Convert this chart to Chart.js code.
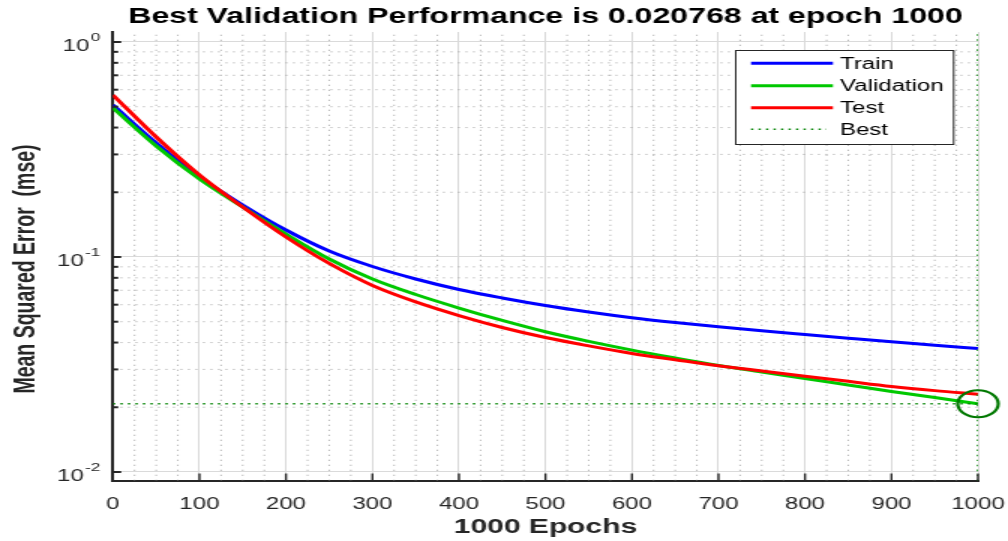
<!DOCTYPE html>
<html><head><meta charset="utf-8">
<script src="https://cdn.jsdelivr.net/npm/chart.js@4.4.1/dist/chart.umd.min.js"></script>
<style>html,body{margin:0;padding:0;background:#fff;overflow:hidden}canvas{display:block}</style>
</head><body>
<canvas id="c" width="672" height="541" style="width:1008px;height:541px"></canvas>
<script>
const titleText = 'Best Validation Performance is 0.020768 at epoch 1000';
const xTitle = '1000 Epochs';
const yTitle = 'Mean Squared Error  (mse)';
const epochs = [0,50,100,150,200,250,300,350,400,450,500,550,600,650,700,750,800,850,900,950,1000];
const train = [0.5092,0.3391,0.2355,0.1745,0.1335,0.1066,0.0903,0.0790,0.0706,0.0645,0.0595,0.0555,0.0522,0.0496,0.0474,0.0454,0.0436,0.0419,0.0403,0.0389,0.0375];
const validation = [0.4932,0.3284,0.2305,0.1708,0.1279,0.0979,0.0790,0.0669,0.0579,0.0507,0.0449,0.0405,0.0369,0.0339,0.0313,0.0292,0.0272,0.0254,0.0237,0.0222,0.020768];
const test = [0.5670,0.3615,0.2406,0.1708,0.1239,0.0933,0.0737,0.0618,0.0534,0.0470,0.0422,0.0386,0.0356,0.0333,0.0312,0.0295,0.0279,0.0264,0.0250,0.0239,0.0230];
const seriesLabels = ['Train','Validation','Test','Best'];
const bestEpoch = 1000;
const bestValue = 0.020768;
const xTicks = [0,100,200,300,400,500,600,700,800,900,1000];
const xMinorStep = 25;
const yTicks = [0.01,0.1,1];
const yTickLabels = [['10','-2'],['10','-1'],['10','0']];
const xRange = [0,1000];
const yRange = [0.00908,1.113];

const FONT = '"Liberation Sans", Arial, Helvetica, sans-serif';
const AXC = '#262626';

const matlab = {
  id:'matlab',
  beforeDraw(chart){
    const c=chart.ctx; c.save(); c.fillStyle='#fff'; c.fillRect(0,0,chart.width,chart.height); c.restore();
  },
  beforeDatasetsDraw(chart){
    const {ctx, chartArea:{left,right,top,bottom}, scales:{x,y}} = chart;
    ctx.save();
    ctx.beginPath(); ctx.rect(left,top,right-left,bottom-top); ctx.clip();
    ctx.strokeStyle='rgba(120,120,120,0.5)'; ctx.lineWidth=1; ctx.setLineDash([1.3,3.7]);
    for(let v=xRange[0]+xMinorStep; v<xRange[1]; v+=xMinorStep){
      if(xTicks.includes(v)) continue;
      const px=x.getPixelForValue(v);
      ctx.beginPath(); ctx.moveTo(px,bottom); ctx.lineTo(px,top); ctx.stroke();
    }
    for(const d of [0.001,0.01,0.1,1]){
      for(let k=2;k<=9;k++){
        const v=k*d; if(v<yRange[0]||v>yRange[1]) continue;
        const py=y.getPixelForValue(v);
        ctx.beginPath(); ctx.moveTo(left,py); ctx.lineTo(right,py); ctx.stroke();
      }
    }
    ctx.restore();
  },
  afterDraw(chart){
    const {ctx, chartArea:{left,right,top,bottom}, scales:{x,y}} = chart;
    ctx.save();
    ctx.strokeStyle=AXC;
    ctx.lineWidth=2;
    for(const v of yTicks){ const py=y.getPixelForValue(v); ctx.beginPath(); ctx.moveTo(left,py); ctx.lineTo(left+5.5,py); ctx.stroke(); }
    for(const d of [0.001,0.01,0.1,1]) for(let k=2;k<=9;k++){
      const v=k*d; if(v<yRange[0]||v>yRange[1]) continue;
      const py=y.getPixelForValue(v); ctx.beginPath(); ctx.moveTo(left,py); ctx.lineTo(left+3.5,py); ctx.stroke();
    }
    ctx.lineWidth=1.4;
    for(const v of xTicks){ if(v===xRange[0]) continue; const px=x.getPixelForValue(v); ctx.beginPath(); ctx.moveTo(px,bottom); ctx.lineTo(px,bottom-7.5); ctx.stroke(); }
    ctx.fillStyle=AXC; ctx.textBaseline='alphabetic'; ctx.textAlign='left';
    yTicks.forEach((v,i)=>{
      const py=y.getPixelForValue(v);
      const [base,exp]=yTickLabels[i];
      ctx.font='11.5px '+FONT; const ew=ctx.measureText(exp).width;
      ctx.font='16px '+FONT; const bw=ctx.measureText(base).width;
      const rightX=67; const ex=rightX-ew; const bx=ex-1-bw;
      ctx.fillText(base,bx,py+9.5);
      ctx.font='11.5px '+FONT; ctx.fillText(exp,ex,py-0.5);
    });
    ctx.fillStyle='#000'; ctx.textAlign='center'; ctx.font='bold 21.4px '+FONT;
    ctx.fillText(titleText,(left+right)/2,23);
    ctx.fillStyle=AXC; ctx.font='bold 20px '+FONT;
    ctx.fillText(xTitle,(left+right)/2,533);
    ctx.save(); ctx.translate(23.3,269); ctx.rotate(-Math.PI/2);
    ctx.font='bold 19.5px '+FONT; ctx.fillText(yTitle,0,0); ctx.restore();
    const lx=490, ly=50, lw=145.3, lh=94;
    ctx.fillStyle='#fff'; ctx.fillRect(lx,ly,lw,lh);
    ctx.strokeStyle=AXC; ctx.lineWidth=1; ctx.strokeRect(lx+0.5,ly+0.5,lw,lh);
    const rows=[63.3,85.7,107.7,129.3];
    seriesLabels.forEach((lab,i)=>{
      const ds=chart.data.datasets[i];
      ctx.save();
      ctx.strokeStyle=ds.borderColor;
      if(ds.borderDash){ ctx.setLineDash(ds.borderDash); ctx.lineWidth=1.6; ctx.beginPath(); ctx.moveTo(500.7,rows[i]); ctx.lineTo(551,rows[i]); ctx.stroke(); }
      else { ctx.lineWidth=3; ctx.beginPath(); ctx.moveTo(500.7,rows[i]); ctx.lineTo(555.3,rows[i]); ctx.stroke(); }
      ctx.restore();
      ctx.fillStyle='#000'; ctx.textAlign='left'; ctx.textBaseline='middle'; ctx.font='16px '+FONT;
      ctx.fillText(lab,560,rows[i]+1);
    });
    ctx.restore();
  }
};

const pts = arr => epochs.map((e,i)=>({x:e,y:arr[i]}));
const bestStyle = {borderColor:'rgb(0,130,0)', borderWidth:1.5, borderDash:[1.5,3.5], pointRadius:0, order:0};

new Chart(document.getElementById('c'),{
  type:'line',
  data:{datasets:[
    {label:seriesLabels[0], data:pts(train), borderColor:'#0000ff', borderWidth:3, order:3},
    {label:seriesLabels[1], data:pts(validation), borderColor:'#00c800', borderWidth:3, order:2},
    {label:seriesLabels[2], data:pts(test), borderColor:'#ff0000', borderWidth:3, order:1},
    Object.assign({label:seriesLabels[3], data:[{x:xRange[0],y:bestValue},{x:xRange[1],y:bestValue}]}, bestStyle),
    Object.assign({label:'Best epoch', data:[{x:bestEpoch,y:yRange[0]},{x:bestEpoch,y:yRange[1]}]}, bestStyle),
    {label:'Best point', data:[{x:bestEpoch,y:bestValue}], showLine:false, pointRadius:13.5, pointBorderWidth:2.2,
     pointBorderColor:'rgb(0,120,0)', pointBackgroundColor:'rgba(0,0,0,0)', pointStyle:'circle', clip:false, order:-1}
  ]},
  options:{
    responsive:false, animation:false, devicePixelRatio:1,
    layout:{padding:{left:0,right:20,top:32,bottom:0}},
    elements:{point:{radius:0}, line:{cubicInterpolationMode:'monotone', fill:false}},
    plugins:{legend:{display:false}, tooltip:{enabled:false}, title:{display:false}},
    events:[],
    scales:{
      x:{type:'linear', min:xRange[0], max:xRange[1],
         afterBuildTicks(s){ s.ticks = xTicks.map(v=>({value:v})); },
         afterFit(s){ s.height=60; s.paddingLeft=0; s.paddingRight=0; },
         ticks:{color:AXC, font:{family:FONT,size:16}, padding:14, maxRotation:0, autoSkip:false, callback:v=>String(v)},
         grid:{color:'#dadada', lineWidth:1, drawTicks:false},
         border:{color:AXC, width:2}},
      y:{type:'logarithmic', min:yRange[0], max:yRange[1],
         afterBuildTicks(s){ s.ticks = yTicks.map(v=>({value:v})); },
         afterFit(s){ s.width=75.3; s.paddingTop=0; s.paddingBottom=0; },
         ticks:{display:false},
         grid:{color:'#dadada', lineWidth:1, drawTicks:false},
         border:{color:AXC, width:2}}
    }
  },
  plugins:[matlab]
});
</script>
</body></html>
